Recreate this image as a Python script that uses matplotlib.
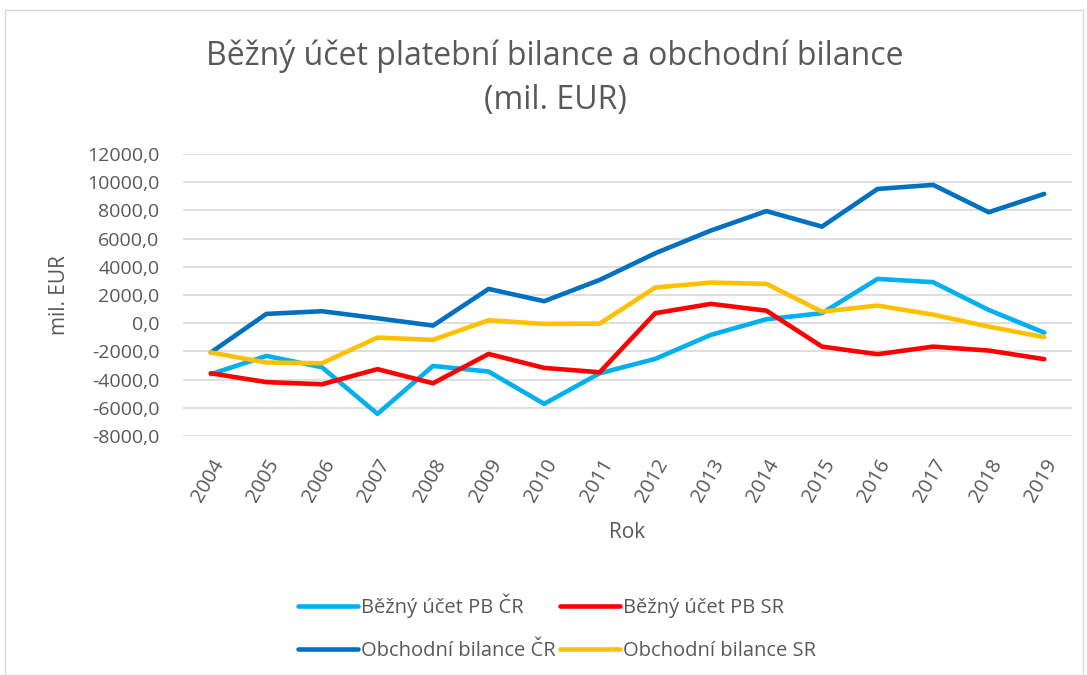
import matplotlib
matplotlib.use("Agg")
import matplotlib.pyplot as plt
from matplotlib.patches import Rectangle
from matplotlib.ticker import FuncFormatter

years = [str(y) for y in range(2004, 2020)]
bu_cr = [-3620, -2320, -3120, -6430, -3030, -3430, -5720, -3550, -2530, -830, 280, 710, 3140, 2910, 940, -670]
bu_sr = [-3550, -4180, -4330, -3260, -4260, -2180, -3170, -3480, 710, 1370, 890, -1660, -2200, -1660, -1940, -2550]
ob_cr = [-2080, 660, 850, 350, -170, 2430, 1560, 3070, 4960, 6570, 7950, 6850, 9520, 9810, 7870, 9170]
ob_sr = [-2080, -2790, -2840, -1020, -1180, 210, -50, -30, 2530, 2880, 2790, 820, 1250, 610, -240, -990]
yticks = list(range(-8000, 12001, 2000))

plt.rcParams['font.family'] = ['Open Sans', 'DejaVu Sans']
txt = '#595959'

fig = plt.figure(figsize=(10.87, 6.75), dpi=100)
W, H = 1087, 675
ax = fig.add_axes([183 / W, 1 - 436 / H, (1072 - 183) / W, (436 - 154) / H])

x = list(range(len(years)))
l1, = ax.plot(x, bu_cr, color='#00B0F0', lw=3.3, label='Běžný účet PB ČR', solid_capstyle='round')
l2, = ax.plot(x, bu_sr, color='#FF0000', lw=3.3, label='Běžný účet PB SR', solid_capstyle='round')
l3, = ax.plot(x, ob_cr, color='#0070C0', lw=3.3, label='Obchodní bilance ČR', solid_capstyle='round')
l4, = ax.plot(x, ob_sr, color='#FFC000', lw=3.3, label='Obchodní bilance SR', solid_capstyle='round')

ax.set_xlim(-0.5, len(years) - 0.5)
ax.set_ylim(-8000, 12000)
ax.set_yticks(yticks)
ax.yaxis.set_major_formatter(FuncFormatter(lambda v, p: f"{v:.1f}".replace('.', ',')))
ax.set_xticks(x)
ax.set_xticklabels(years, rotation=60, ha='right', rotation_mode='anchor')
ax.grid(axis='y', color='#D9D9D9', lw=1.2)
ax.set_axisbelow(True)
for s in ax.spines.values():
    s.set_visible(False)
ax.tick_params(axis='y', length=0, labelsize=14, colors=txt, pad=17)
ax.tick_params(axis='x', length=0, labelsize=14.5, colors=txt, pad=14)
ax.set_ylabel('mil. EUR', fontsize=15, color=txt, labelpad=12)
ax.set_xlabel('Rok', fontsize=15, color=txt, labelpad=12)

fig.text(555 / W, 1 - 56 / H, 'Běžný účet platební bilance a obchodní bilance',
         ha='center', va='center', fontsize=23, color=txt)
fig.text(555 / W, 1 - 101 / H, '(mil. EUR)', ha='center', va='center', fontsize=23, color=txt)

fig.legend([l1, l3, l2, l4], [l.get_label() for l in (l1, l3, l2, l4)],
           loc='center', bbox_to_anchor=(557 / W, 1 - 627 / H), ncol=2, frameon=False,
           fontsize=14.5, labelcolor=txt, handlelength=3.0, handletextpad=0.15,
           columnspacing=0.2, labelspacing=1.15)

fig.patches.append(Rectangle((5 / W, 0), (1083 - 5) / W, (H - 10) / H, transform=fig.transFigure,
                             fill=False, edgecolor='#D9D9D9', lw=1))

fig.savefig('out.png', dpi=100)
